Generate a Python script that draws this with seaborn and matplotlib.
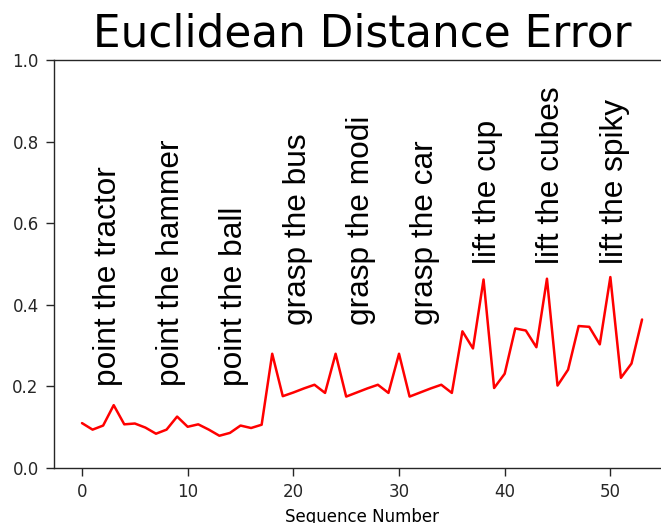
import numpy as np
import pandas as pd
import matplotlib
matplotlib.use("Agg")
import matplotlib.pyplot as plt
import seaborn as sns

# DATA

seq_numbers = list(range(54))
errors = [
    0.110, 0.094, 0.104, 0.154, 0.107, 0.109,
    0.099, 0.084, 0.094, 0.126, 0.101, 0.107,
    0.094, 0.079, 0.086, 0.104, 0.098, 0.106,
    0.280, 0.176, 0.185, 0.195, 0.204, 0.184,
    0.280, 0.175, 0.185, 0.195, 0.204, 0.184,
    0.280, 0.175, 0.185, 0.195, 0.204, 0.184,
    0.335, 0.293, 0.462, 0.196, 0.231, 0.342,
    0.337, 0.296, 0.464, 0.202, 0.241, 0.348,
    0.346, 0.303, 0.468, 0.221, 0.256, 0.364,
]

task_names = [
    "point the tractor", "point the hammer", "point the ball",
    "grasp the bus", "grasp the modi", "grasp the car",
    "lift the cup", "lift the cubes", "lift the spiky",
]
task_x = [1, 7, 13, 19, 25, 31, 37, 43, 49]
task_y = [0.2, 0.2, 0.2, 0.35, 0.35, 0.35, 0.5, 0.5, 0.5]

df = pd.DataFrame({"Sequence Number": seq_numbers, "Error": errors})

# PLOT

sns.set_style("ticks")
plt.rcParams["font.family"] = ["DejaVu Sans"]

fig = plt.figure(figsize=(6.61, 5.23), dpi=100)
ax = fig.add_axes([0.0817, 0.1052, 0.932, 0.780])

sns.lineplot(data=df, x="Sequence Number", y="Error", color="red",
             linewidth=1.8, ax=ax)

for name, x, y in zip(task_names, task_x, task_y):
    ax.text(x, y, name, rotation=90, ha="left", va="bottom",
            fontsize=22.8, family="Liberation Sans", color="black")

ax.set_ylim(0, 1)
ax.set_yticks(np.arange(0, 1.01, 0.2))
ax.set_xticks([0, 10, 20, 30, 40, 50])
ax.set_ylabel("")
ax.set_xlabel("Sequence Number", fontsize=12, labelpad=5, color="black")
ax.tick_params(labelsize=12, length=6, width=1.0, pad=5)
for s in ax.spines.values():
    s.set_linewidth(1.0)
ax.set_title("Euclidean Distance Error", fontsize=31.5, pad=10, color="black")

fig.savefig("out.png", dpi=100)
